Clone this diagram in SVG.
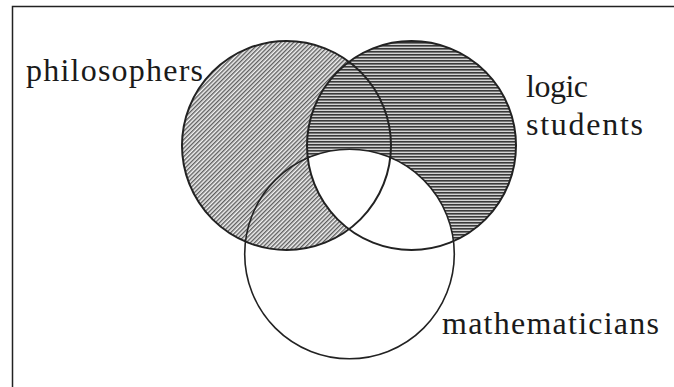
<svg xmlns="http://www.w3.org/2000/svg" width="674" height="387" viewBox="0 0 674 387">
<style>
.ring{fill:none;stroke:#222;stroke-width:2}
.ringm{fill:none;stroke:#222;stroke-width:1.6}
</style>
<defs>
<pattern id="diag" width="3" height="3" patternUnits="userSpaceOnUse" patternTransform="rotate(45)">
<rect width="3" height="3" fill="#f2f2f2"/>
<rect width="1.4" height="3" fill="#5e5e5e"/>
</pattern>
<pattern id="horiz" width="6" height="3" patternUnits="userSpaceOnUse">
<rect width="6" height="3" fill="#d4d4d4"/>
<rect width="6" height="1.6" fill="#3a3a3a"/>
</pattern>
<clipPath id="clipL"><circle cx="411.5" cy="145.5" r="104.5"/></clipPath>
</defs>
<rect width="674" height="387" fill="#fff"/>
<path d="M12.5 387 V6.5 H674" fill="none" stroke="#222" stroke-width="1.5"/>
<g id="philosophers">
<circle cx="286.5" cy="145.5" r="104.5" fill="url(#diag)"/>
</g>
<g id="logic-students">
<circle cx="411.5" cy="145.5" r="104.5" fill="url(#horiz)"/>
</g>
<g id="mathematicians">
<circle cx="349.5" cy="254" r="104.8" fill="#fff" clip-path="url(#clipL)"/>
<circle class="ringm" cx="349.5" cy="254" r="104.8"/>
</g>
<g id="outlines">
<circle class="ring" cx="286.5" cy="145.5" r="104.5"/>
<circle class="ring" cx="411.5" cy="145.5" r="104.5"/>
</g>
<g id="labels" font-family="'Liberation Serif', serif" font-size="32" fill="#1a1a1a">
<text x="26" y="81" textLength="177" lengthAdjust="spacing">philosophers</text>
<text x="526" y="97" textLength="62" lengthAdjust="spacing">logic</text>
<text x="526" y="135" textLength="117" lengthAdjust="spacing">students</text>
<text x="442" y="334" textLength="217" lengthAdjust="spacing">mathematicians</text>
</g>
</svg>
